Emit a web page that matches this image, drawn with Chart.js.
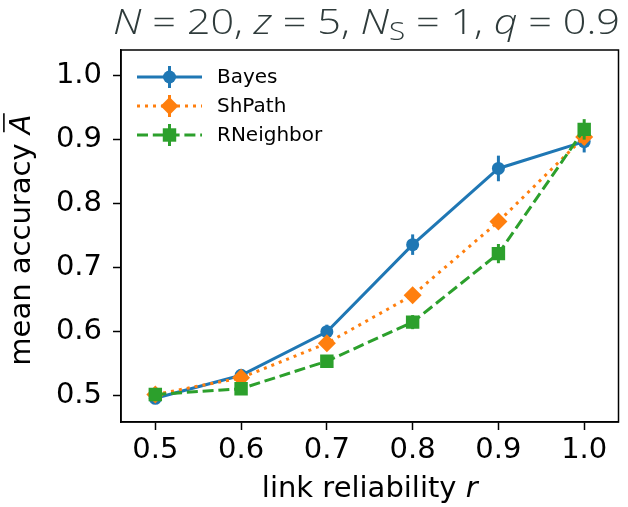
<!DOCTYPE html>
<html><head><meta charset="utf-8">
<script src="https://cdn.jsdelivr.net/npm/chart.js@4.4.0/dist/chart.umd.min.js"></script>
<style>html,body{margin:0;padding:0;background:#fff}#wrap{width:628px;height:507px;position:relative}</style>
</head><body><div id="wrap"><canvas id="c" width="628" height="507"></canvas></div>
<script>
const reliability = [0.5, 0.6, 0.7, 0.8, 0.9, 1.0];
const bayesMean = [0.496, 0.532, 0.600, 0.736, 0.855, 0.897];
const bayesErr = [0.006, 0.006, 0.011, 0.016, 0.020, 0.017];
const shPathMean = [0.502, 0.528, 0.582, 0.657, 0.772, 0.904];
const shPathErr = [0.005, 0.006, 0.009, 0.010, 0.011, 0.012];
const rNeighborMean = [0.502, 0.511, 0.554, 0.615, 0.722, 0.916];
const rNeighborErr = [0.005, 0.005, 0.007, 0.011, 0.015, 0.016];
const xTicks = [0.5, 0.6, 0.7, 0.8, 0.9, 1.0];
const yTicks = [0.5, 0.6, 0.7, 0.8, 0.9, 1.0];
const seriesNames = ['Bayes', 'ShPath', 'RNeighbor'];

const FONT = '"DejaVu Sans", sans-serif';
const TICK_SIZE = 29;
const LABEL_SIZE = 29;
const LW = 3;

function pts(means) { return reliability.map((x, i) => ({x: x, y: means[i]})); }

const errs = [bayesErr, shPathErr, rNeighborErr];

const errorBarPlugin = {
  id: 'errbars',
  beforeDatasetDraw(chart, args) {
    const ds = chart.data.datasets[args.index];
    const err = errs[args.index];
    const xs = chart.scales.x, ys = chart.scales.y;
    const ctx = chart.ctx;
    ctx.save();
    ctx.strokeStyle = ds.borderColor;
    ctx.lineWidth = LW;
    ctx.setLineDash([]);
    ds.data.forEach((p, i) => {
      const px = xs.getPixelForValue(p.x);
      ctx.beginPath();
      ctx.moveTo(px, ys.getPixelForValue(p.y - err[i]));
      ctx.lineTo(px, ys.getPixelForValue(p.y + err[i]));
      ctx.stroke();
    });
    ctx.restore();
  }
};

function drawMarker(ctx, style, x, y, r, color) {
  ctx.fillStyle = color;
  ctx.beginPath();
  if (style === 'circle') { ctx.arc(x, y, r, 0, Math.PI * 2); }
  else if (style === 'rectRot') { ctx.moveTo(x, y - r); ctx.lineTo(x + r, y); ctx.lineTo(x, y + r); ctx.lineTo(x - r, y); ctx.closePath(); }
  else { const s = r * Math.SQRT1_2; ctx.rect(x - s, y - s, 2 * s, 2 * s); }
  ctx.fill();
}

const decorPlugin = {
  id: 'decor',
  afterDraw(chart) {
    const ctx = chart.ctx, a = chart.chartArea;
    ctx.save();
    ctx.strokeStyle = '#000'; ctx.lineWidth = 1.5; ctx.setLineDash([]);
    ctx.strokeRect(a.left, a.top, a.right - a.left, a.bottom - a.top);

    // legend
    const rows = [77, 106, 135];
    chart.data.datasets.forEach((ds, i) => {
      const y = rows[i];
      ctx.strokeStyle = ds.borderColor; ctx.lineWidth = ds.borderWidth;
      ctx.setLineDash(ds.borderDash || []);
      ctx.beginPath(); ctx.moveTo(137, y); ctx.lineTo(202, y); ctx.stroke();
      ctx.setLineDash([]);
      ctx.lineWidth = LW;
      ctx.beginPath(); ctx.moveTo(169.5, y - 11); ctx.lineTo(169.5, y + 11); ctx.stroke();
      drawMarker(ctx, ds.pointStyle, 169.5, y, ds.pointRadius, ds.borderColor);
      ctx.fillStyle = '#000';
      ctx.font = '20px ' + FONT;
      ctx.textBaseline = 'middle'; ctx.textAlign = 'left';
      ctx.fillText(ds.label, 217, y + 1);
    });

    // x axis title
    ctx.fillStyle = '#000'; ctx.textBaseline = 'alphabetic';
    const xt1 = 'link reliability ', xt2 = 'r';
    ctx.font = LABEL_SIZE + 'px ' + FONT;
    const w1 = ctx.measureText(xt1).width;
    ctx.font = 'italic ' + LABEL_SIZE + 'px ' + FONT;
    const w2 = ctx.measureText(xt2).width;
    let sx = (a.left + a.right) / 2 - (w1 + w2) / 2;
    ctx.font = LABEL_SIZE + 'px ' + FONT; ctx.fillText(xt1, sx, 497);
    ctx.font = 'italic ' + LABEL_SIZE + 'px ' + FONT; ctx.fillText(xt2, sx + w1, 497);

    // y axis title
    ctx.save();
    ctx.translate(30, (a.top + a.bottom) / 2 + 4);
    ctx.rotate(-Math.PI / 2);
    const yt1 = 'mean accuracy ', yt2 = 'A';
    ctx.font = LABEL_SIZE + 'px ' + FONT;
    const v1 = ctx.measureText(yt1).width;
    ctx.font = 'italic ' + LABEL_SIZE + 'px ' + FONT;
    const v2 = ctx.measureText(yt2).width;
    let sy = -(v1 + v2) / 2;
    ctx.font = LABEL_SIZE + 'px ' + FONT; ctx.fillText(yt1, sy, 0);
    ctx.font = 'italic ' + LABEL_SIZE + 'px ' + FONT; ctx.fillText(yt2, sy + v1, 0);
    ctx.strokeStyle = '#000'; ctx.lineWidth = 1.6;
    ctx.beginPath(); ctx.moveTo(sy + v1 + 2, -LABEL_SIZE * 0.9); ctx.lineTo(sy + v1 + v2 + 1, -LABEL_SIZE * 0.9); ctx.stroke();
    ctx.restore();

    // title
    const segs = [
      {t: 'N', it: true}, {t: ' = 20, '}, {t: 'z', it: true}, {t: ' = 5, '},
      {t: 'N', it: true}, {t: 'S', sub: true}, {t: ' = 1, '}, {t: 'q', it: true}, {t: ' = 0.9'}
    ];
    const TS = 35;
    const TF = '"Open Sans", "Noto Sans", sans-serif';
    function segFont(s) { return (s.it ? 'italic ' : '') + '300 ' + (s.sub ? Math.round(TS * 0.7) : TS) + 'px ' + TF; }
    let total = 0;
    segs.forEach(s => { ctx.font = segFont(s); s.w = ctx.measureText(s.t).width; total += s.w; });
    const left = 113, right = 620;
    const k = (right - left) / total;
    ctx.fillStyle = '#2f3b3b';
    ctx.save();
    ctx.translate(left, 34);
    ctx.scale(k, 1);
    let off = 0;
    segs.forEach(s => {
      ctx.font = segFont(s);
      ctx.fillText(s.t, off, s.sub ? 6 : 0);
      off += s.w;
    });
    ctx.restore();
    ctx.restore();
  }
};

new Chart(document.getElementById('c'), {
  type: 'line',
  data: {
    datasets: [
      {label: seriesNames[0], data: pts(bayesMean), borderColor: '#1f77b4', backgroundColor: '#1f77b4',
       borderWidth: LW, pointStyle: 'circle', pointRadius: 6.5, pointBorderWidth: 0, order: 3},
      {label: seriesNames[1], data: pts(shPathMean), borderColor: '#ff7f0e', backgroundColor: '#ff7f0e',
       borderWidth: LW, borderDash: [3, 5], pointStyle: 'rectRot', pointRadius: 9, pointBorderWidth: 0, order: 2},
      {label: seriesNames[2], data: pts(rNeighborMean), borderColor: '#2ca02c', backgroundColor: '#2ca02c',
       borderWidth: LW, borderDash: [11, 4.8], pointStyle: 'rect', pointRadius: 9.5, pointBorderWidth: 0, order: 1}
    ]
  },
  options: {
    responsive: false, animation: false, devicePixelRatio: 1,
    layout: {padding: {top: 50, right: 1, left: 0, bottom: 0}},
    plugins: {legend: {display: false}, tooltip: {enabled: false}, title: {display: false}},
    elements: {line: {tension: 0, fill: false}},
    scales: {
      x: {
        type: 'linear', min: 0.46, max: 1.04,
        afterBuildTicks: s => { s.ticks = xTicks.map(v => ({value: v})); },
        afterFit: s => { s.height = 85; s.paddingLeft = 0; s.paddingRight = 0; },
        ticks: {callback: v => v.toFixed(1), font: {family: FONT, size: TICK_SIZE}, color: '#000', padding: 3, maxRotation: 0, autoSkip: false},
        grid: {display: true, drawOnChartArea: false, drawTicks: true, tickLength: 8, tickWidth: 1.5, tickColor: '#000'},
        border: {display: true, color: '#000', width: 1.5}
      },
      y: {
        type: 'linear', min: 0.459, max: 1.04,
        afterBuildTicks: s => { s.ticks = yTicks.map(v => ({value: v})); },
        afterFit: s => { s.width = 121; s.paddingTop = 0; s.paddingBottom = 0; },
        ticks: {callback: v => v.toFixed(1), font: {family: FONT, size: TICK_SIZE}, color: '#000', padding: 11, autoSkip: false},
        grid: {display: true, drawOnChartArea: false, drawTicks: true, tickLength: 8, tickWidth: 1.5, tickColor: '#000'},
        border: {display: true, color: '#000', width: 1.5}
      }
    }
  },
  plugins: [errorBarPlugin, decorPlugin]
});
</script></body></html>
